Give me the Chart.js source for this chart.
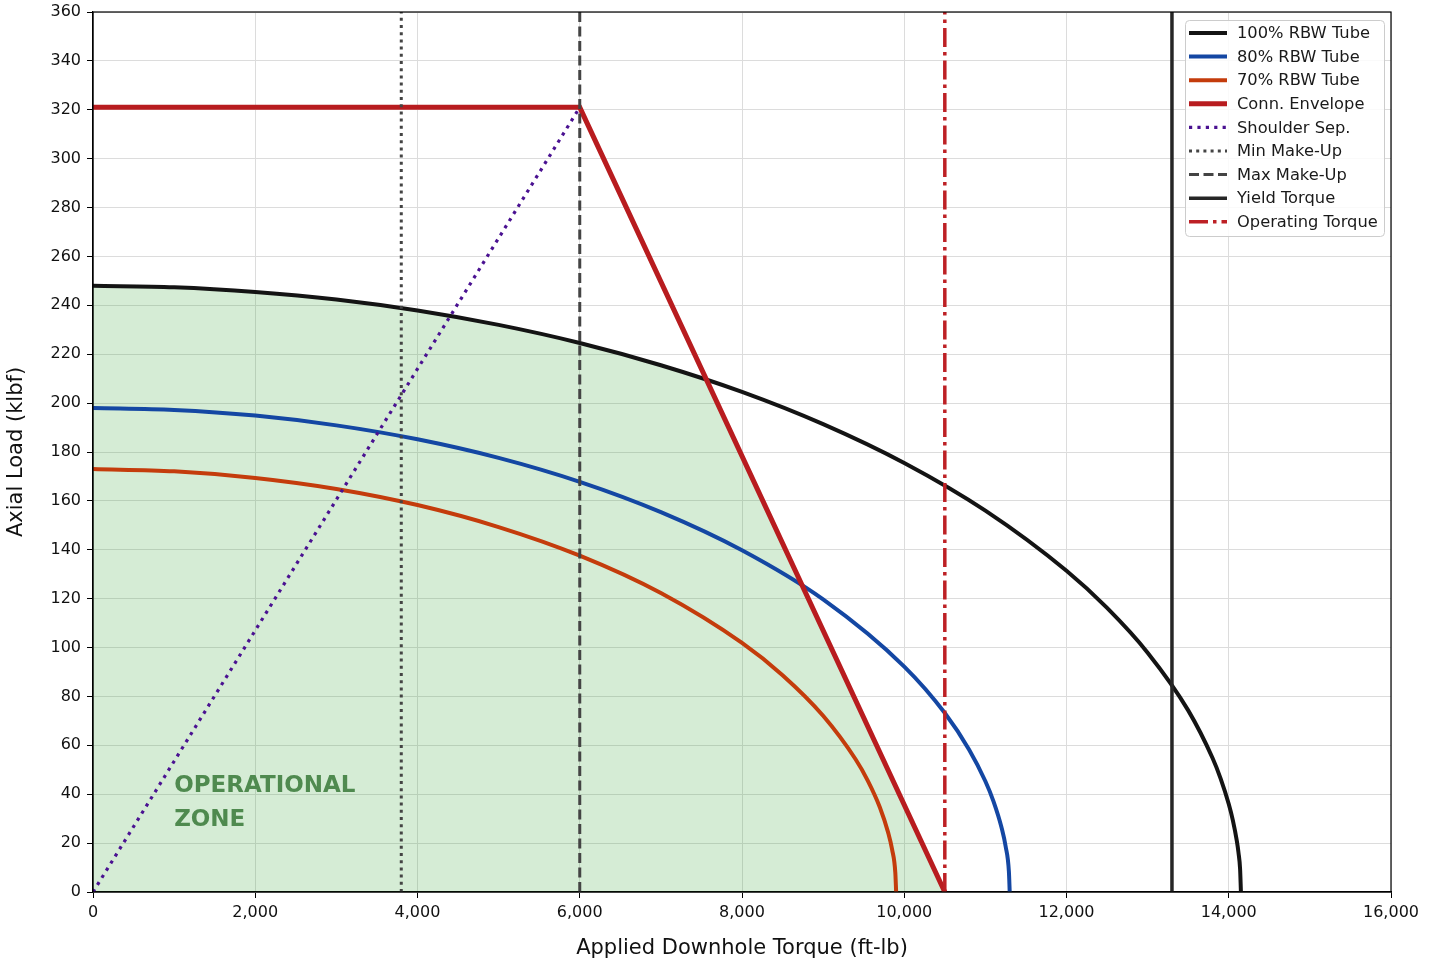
<!DOCTYPE html>
<html lang="en">
<head>
    <meta charset="UTF-8">
    <title>Torque-Tension Envelope</title>
    <script src="https://cdn.jsdelivr.net/npm/chart.js"></script>
    <style>
        html, body { margin: 0; padding: 0; background: #fff; }
        #wrap { width: 1439px; height: 965px; }
    </style>
</head>
<body>
    <div id="wrap"><canvas id="envChart"></canvas></div>

    <script>
        // values
        const tube100X = [0, 1000, 2000, 3000, 4000, 5000, 6000, 7000, 8000, 9000, 10000, 11000, 12000, 12500, 13000, 13500, 13800, 13900, 14000, 14050, 14100, 14120, 14140, 14150];
        const tube100Y = [248, 247.4, 245.5, 242.4, 237.9, 232.0, 224.6, 215.5, 204.6, 191.4, 175.5, 156.0, 131.4, 116.2, 97.9, 74.3, 54.8, 46.4, 36.0, 29.4, 20.8, 16.1, 9.3, 0];

        const tube80X = [0, 1000, 2000, 3000, 4000, 5000, 6000, 7000, 8000, 9000, 10000, 10500, 10800, 11000, 11100, 11200, 11250, 11290, 11300];
        const tube80Y = [198, 197.2, 194.9, 190.9, 185.2, 177.6, 167.8, 155.4, 139.8, 119.7, 92.2, 73.2, 58.2, 45.3, 37.1, 26.3, 18.6, 8.3, 0];

        const tube70X = [0, 1000, 2000, 3000, 4000, 5000, 6000, 7000, 8000, 8500, 9000, 9400, 9550, 9700, 9800, 9850, 9890, 9900];
        const tube70Y = [173, 172.1, 169.4, 164.9, 158.3, 149.3, 137.6, 122.3, 101.9, 88.7, 72.1, 54.3, 45.6, 34.6, 24.5, 17.4, 7.8, 0];

        const envelopeX = [0, 6000, 10500];
        const envelopeY = [321, 321, 0];

        const shoulderX = [0, 6000];
        const shoulderY = [0, 321];

        const zoneX = [0, 1000, 2000, 3000, 4000, 5000, 6000, 7000, 7560, 10500];
        const zoneY = [248, 247.4, 245.5, 242.4, 237.9, 232.0, 224.6, 215.5, 209.7, 0];

        const minMakeUp = 3800;
        const maxMakeUp = 6000;
        const yieldTorque = 13300;
        const operatingTorque = 10500;

        const xTicks = [0, 2000, 4000, 6000, 8000, 10000, 12000, 14000, 16000];
        const yTicks = [0, 20, 40, 60, 80, 100, 120, 140, 160, 180, 200, 220, 240, 260, 280, 300, 320, 340, 360];

        function pts(xs, ys) {
            return xs.map((x, i) => ({ x: x, y: ys[i] }));
        }
        function vline(x) {
            return [{ x: x, y: 0 }, { x: x, y: 360 }];
        }

        const FONT = "'DejaVu Sans', sans-serif";

        const datasets = [
            { label: "100% RBW Tube", data: pts(tube100X, tube100Y), borderColor: "#141414", borderWidth: 4, cubicInterpolationMode: "monotone" },
            { label: "80% RBW Tube", data: pts(tube80X, tube80Y), borderColor: "#1447a3", borderWidth: 4, cubicInterpolationMode: "monotone" },
            { label: "70% RBW Tube", data: pts(tube70X, tube70Y), borderColor: "#c43c0c", borderWidth: 4, cubicInterpolationMode: "monotone" },
            { label: "Conn. Envelope", data: pts(envelopeX, envelopeY), borderColor: "#b81c1f", borderWidth: 5 },
            { label: "Shoulder Sep.", data: pts(shoulderX, shoulderY), borderColor: "#4a1191", borderWidth: 3.2, borderDash: [3.2, 5.2] },
            { label: "Min Make-Up", data: vline(minMakeUp), borderColor: "#444444", borderWidth: 3, borderDash: [3, 4.2] },
            { label: "Max Make-Up", data: vline(maxMakeUp), borderColor: "#444444", borderWidth: 3, borderDash: [10, 4.5] },
            { label: "Yield Torque", data: vline(yieldTorque), borderColor: "#262626", borderWidth: 3.5 },
            { label: "Operating Torque", data: vline(operatingTorque), borderColor: "#bd2025", borderWidth: 3.5, borderDash: [19, 5, 3.5, 5] }
        ];
        // later series on top, like the original plotting order
        datasets.forEach((d, i) => {
            d.order = 20 - i;
            d.pointRadius = 0;
            d.fill = false;
        });
        datasets.push({
            label: "zone",
            data: pts(zoneX, zoneY),
            borderWidth: 0,
            borderColor: "rgba(0,0,0,0)",
            backgroundColor: "rgba(44,160,44,0.2)",
            fill: "origin",
            pointRadius: 0,
            order: 100
        });

        const framePlugin = {
            id: "frame",
            afterDraw(chart) {
                const ctx = chart.ctx;
                const a = chart.chartArea;
                const xs = chart.scales.x, ys = chart.scales.y;
                ctx.save();
                ctx.strokeStyle = "#000";
                ctx.lineWidth = 1.2;
                ctx.strokeRect(a.left, a.top, a.right - a.left, a.bottom - a.top);

                // zone label
                ctx.fillStyle = "#4f8a4f";
                ctx.font = "bold 23px " + FONT;
                ctx.textBaseline = "middle";
                ctx.textAlign = "left";
                ctx.fillText("OPERATIONAL", xs.getPixelForValue(1000), ys.getPixelForValue(43.3));
                ctx.fillText("ZONE", xs.getPixelForValue(1000), ys.getPixelForValue(29.4));

                // legend box
                const items = chart.data.datasets.filter(d => d.label !== "zone");
                const bx = 1185, by = 20, bw = 199, bh = 216, r = 4;
                ctx.fillStyle = "rgba(255,255,255,0.85)";
                ctx.strokeStyle = "#cccccc";
                ctx.lineWidth = 1;
                ctx.beginPath();
                ctx.roundRect(bx + 0.5, by + 0.5, bw, bh, r);
                ctx.fill();
                ctx.stroke();
                ctx.font = "16.3px " + FONT;
                items.forEach((d, i) => {
                    const yy = by + 13 + i * 23.6;
                    ctx.strokeStyle = d.borderColor;
                    ctx.lineWidth = d.borderWidth;
                    ctx.setLineDash(d.borderDash || []);
                    ctx.beginPath();
                    ctx.moveTo(bx + 4, yy);
                    ctx.lineTo(bx + 42, yy);
                    ctx.stroke();
                    ctx.setLineDash([]);
                    ctx.fillStyle = "#1a1a1a";
                    ctx.fillText(d.label, bx + 52, yy + 1);
                });
                ctx.restore();
            }
        };

        const ctx = document.getElementById("envChart").getContext("2d");
        const chart = new Chart(ctx, {
            type: "line",
            data: { datasets: datasets },
            options: {
                responsive: true,
                maintainAspectRatio: false,
                animation: false,
                layout: { padding: { top: 12, right: 48, left: 0, bottom: 0 } },
                plugins: {
                    legend: { display: false },
                    tooltip: { enabled: false }
                },
                elements: { line: { tension: 0 } },
                scales: {
                    x: {
                        type: "linear",
                        min: 0,
                        max: 16000,
                        afterFit: s => { s.height = 73; },
                        afterBuildTicks: s => { s.ticks = xTicks.map(v => ({ value: v })); },
                        grid: { color: "#dcdcdc", lineWidth: 1, tickColor: "#000", tickLength: 6 },
                        border: { color: "#000", width: 1.2 },
                        ticks: {
                            color: "#111",
                            padding: 5,
                            maxRotation: 0,
                            font: { family: FONT, size: 16 },
                            callback: v => v.toLocaleString("en-US")
                        },
                        title: {
                            display: true,
                            text: "Applied Downhole Torque (ft-lb)",
                            color: "#111",
                            font: { family: FONT, size: 21 },
                            padding: { top: 4, bottom: 4 }
                        }
                    },
                    y: {
                        type: "linear",
                        min: 0,
                        max: 360,
                        afterFit: s => { s.width = 93; },
                        afterBuildTicks: s => { s.ticks = yTicks.map(v => ({ value: v })); },
                        grid: { color: "#dcdcdc", lineWidth: 1, tickColor: "#000", tickLength: 6 },
                        border: { color: "#000", width: 1.2 },
                        ticks: {
                            color: "#111",
                            padding: 6,
                            font: { family: FONT, size: 16, lineHeight: 0.6 }
                        },
                        title: {
                            display: true,
                            text: "Axial Load (klbf)",
                            color: "#111",
                            font: { family: FONT, size: 21 },
                            padding: { top: 4, bottom: 4 }
                        }
                    }
                }
            },
            plugins: [framePlugin]
        });
    </script>
</body>
</html>
